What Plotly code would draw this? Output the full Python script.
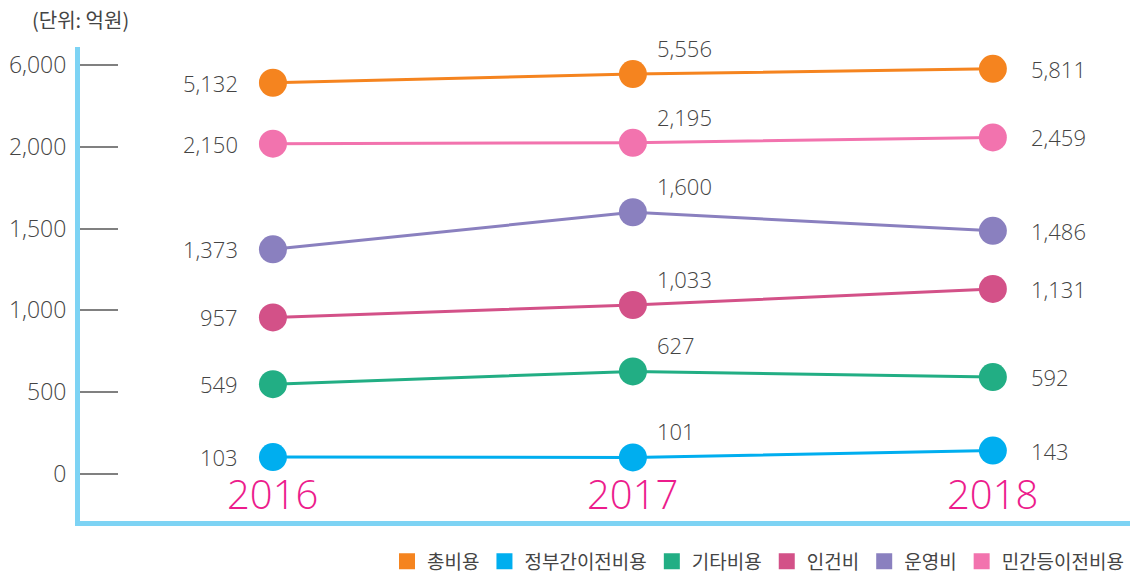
import numpy as np
import plotly.graph_objects as go

years = ["2016", "2017", "2018"]
series_names = ["총비용", "정부간이전비용", "기타비용", "인건비", "운영비", "민간등이전비용"]
total = [5132, 5556, 5811]
intergov = [103, 101, 143]
other = [549, 627, 592]
personnel = [957, 1033, 1131]
operating = [1373, 1600, 1486]
private = [2150, 2195, 2459]
colors = ["#f5841f", "#00aeef", "#22ae84", "#d35188", "#8a80bf", "#f273ae"]

tick_values = [0, 500, 1000, 1500, 2000, 6000]
tick_labels = ["0", "500", "1,000", "1,500", "2,000", "6,000"]

FONT = "Open Sans, Noto Sans CJK KR"
KFONT = "Noto Sans CJK KR"
TXT = "#444444"

# broken (piecewise-linear) value scale: each tick interval gets one unit
def scale(v):
    return np.interp(v, tick_values, np.arange(len(tick_values)))

series = [total, intergov, other, personnel, operating, private]
# label placement per year: (xanchor, xshift, yshift)
label_place = [("right", -33, 0), ("left", 22, 26), ("left", 36, 0)]

fig = go.Figure()
for name, vals, col in zip(series_names, series, colors):
    fig.add_trace(go.Scatter(
        x=years, y=scale(vals), mode="lines+markers",
        line=dict(color=col, width=3),
        marker=dict(color=col, size=28),
        showlegend=False, hoverinfo="skip", cliponaxis=False,
    ))
    for i, v in enumerate(vals):
        xa, xs, ys = label_place[i]
        fig.add_annotation(x=i, y=float(scale(v)), xref="x", yref="y", text=f"{v:,}",
                           showarrow=False, xanchor=xa, yanchor="middle", xshift=xs, yshift=ys,
                           font=dict(size=22, color=TXT, family=FONT, weight=300))
for name, col in zip(series_names, colors):
    fig.add_trace(go.Scatter(
        x=[None], y=[None], mode="markers", name=name,
        marker=dict(color=col, size=17, symbol="square"),
    ))

for i, yr in enumerate(years):
    fig.add_annotation(x=i, y=-0.24, xref="x", yref="y", text=yr, showarrow=False,
                       font=dict(size=40, color="#ec1c8c", family=FONT, weight=300))

fig.add_annotation(x=-0.048, y=1.057, xref="paper", yref="paper", xanchor="left", yanchor="middle",
                   text="(단위: 억원)", showarrow=False,
                   font=dict(size=20, color=TXT, family=KFONT))

fig.update_xaxes(type="category", range=[-0.536, 2.381], showticklabels=False, ticks="",
                 showgrid=False, zeroline=False, showline=True, linecolor="#7dd3f4", linewidth=5,
                 automargin=False)
fig.update_yaxes(range=[-0.575, 5.22], tickvals=list(range(len(tick_values))), ticktext=tick_labels,
                 ticks="inside", ticklen=38, tickwidth=2, tickcolor="#808080",
                 tickfont=dict(size=23, color=TXT, family=FONT, weight=300), ticklabelstandoff=4,
                 showgrid=False, zeroline=False, showline=True, linecolor="#7dd3f4", linewidth=5,
                 automargin=False)

fig.update_layout(
    width=1140, height=576,
    margin=dict(l=80, r=10, t=47, b=55, autoexpand=False),
    paper_bgcolor="white", plot_bgcolor="white",
    legend=dict(orientation="h", x=1.0, xanchor="right", y=-0.085, yanchor="middle",
                font=dict(size=19, color=TXT, family=KFONT),
                itemwidth=30, tracegroupgap=0),
    font=dict(family=FONT),
)

fig.write_html("out.html", config={"displayModeBar": False},
               post_script="document.body.style.margin='0';document.body.style.overflow='hidden';")
